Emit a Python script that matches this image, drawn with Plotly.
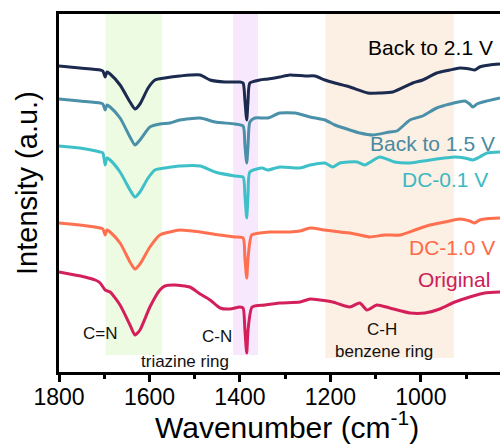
import plotly.graph_objects as go

# ---- data (wavenumber in cm-1, intensity in arbitrary offset units) ----
wn_b21 = [1800, 1754, 1709, 1703, 1698, 1694, 1687, 1665, 1643, 1632, 1621, 1603, 1588, 1566, 1533, 1488,
          1466, 1433, 1400, 1393, 1389, 1385, 1382, 1378, 1356, 1338, 1312, 1290, 1256, 1234, 1212, 1190,
          1157, 1117, 1091, 1062, 1018, 996, 965, 936, 914, 892, 881, 870, 848, 825]
in_b21 = [306, 304, 302, 301, 295, 300, 298, 287, 270, 263, 268, 284, 292, 294, 296, 297,
          292, 290, 290, 289, 272, 252, 272, 289, 292, 293, 295, 297, 296, 296, 292, 289,
          285, 279, 279, 280, 289, 292, 299, 302, 304, 303, 302, 305, 307, 308]

wn_b15 = [1800, 1754, 1709, 1703, 1698, 1694, 1687, 1665, 1643, 1632, 1621, 1599, 1577, 1555, 1533, 1488,
          1455, 1411, 1393, 1389, 1385, 1382, 1378, 1367, 1338, 1312, 1278, 1245, 1212, 1190, 1157, 1135,
          1106, 1069, 1053, 1024, 996, 965, 936, 903, 892, 885, 876, 863, 825]
in_b15 = [273, 271, 269, 268, 262, 267, 265, 254, 235, 227, 232, 245, 248, 249, 252, 254,
          250, 248, 246, 227, 209, 227, 250, 254, 254, 259, 259, 255, 252, 247, 242, 239,
          237, 240, 241, 252, 256, 264, 268, 271, 268, 265, 268, 270, 274]

wn_dc01 = [1800, 1754, 1709, 1703, 1698, 1694, 1687, 1665, 1643, 1632, 1621, 1603, 1588, 1566, 1533, 1488,
           1455, 1411, 1393, 1389, 1385, 1382, 1378, 1351, 1338, 1312, 1267, 1245, 1212, 1195, 1179, 1141,
           1124, 1091, 1058, 1024, 980, 925, 903, 885, 870, 854, 825]
in_dc01 = [226, 224, 220, 219, 207, 214, 212, 200, 182, 175, 180, 194, 202, 204, 206, 206,
           200, 196, 195, 177, 154, 177, 200, 204, 202, 205, 204, 207, 209, 205, 209, 210,
           207, 215, 210, 209, 212, 215, 214, 212, 215, 219, 220]

wn_dc10 = [1800, 1754, 1709, 1703, 1698, 1694, 1687, 1665, 1643, 1632, 1621, 1599, 1577, 1555, 1533, 1488,
           1444, 1411, 1393, 1389, 1385, 1382, 1374, 1356, 1334, 1290, 1267, 1245, 1212, 1179, 1157, 1135,
           1113, 1080, 1046, 1013, 980, 947, 914, 892, 881, 870, 859, 825]
in_dc10 = [149, 147, 144, 143, 137, 142, 140, 129, 110, 103, 108, 125, 137, 140, 142, 140,
           137, 135, 134, 114, 94, 114, 137, 139, 140, 140, 141, 144, 142, 140, 139, 137,
           135, 137, 137, 142, 147, 150, 153, 151, 149, 152, 153, 154]

wn_orig = [1800, 1765, 1743, 1720, 1709, 1698, 1687, 1665, 1643, 1632, 1621, 1599, 1577, 1566, 1544, 1511,
           1488, 1466, 1444, 1422, 1400, 1393, 1389, 1385, 1382, 1373, 1345, 1312, 1267, 1245, 1223, 1195,
           1157, 1135, 1119, 1097, 1069, 1024, 991, 958, 925, 892, 859, 825]
in_orig = [100, 97, 95, 92, 89, 82, 80, 67, 47, 37, 42, 65, 82, 86, 87, 85,
           78, 72, 64, 63, 65, 64, 42, 19, 42, 65, 67, 69, 70, 73, 72, 70,
           65, 69, 62, 67, 64, 59, 59, 63, 70, 75, 79, 80]

series_names = ["Back to 2.1 V", "Back to 1.5 V", "DC-0.1 V", "DC-1.0 V", "Original"]
series_wn = [wn_b21, wn_b15, wn_dc01, wn_dc10, wn_orig]
series_in = [in_b21, in_b15, in_dc01, in_dc10, in_orig]
line_colors = ["#1b2a4e", "#4a90a8", "#3ec0c8", "#ff7050", "#d4205a"]
label_colors = ["#000000", "#4a8aa0", "#3bb8c4", "#ff6a48", "#cc2058"]
label_y = [325, 229, 193, 125, 93]
label_x = [0.989, 0.993, 0.977, 0.993, 0.982]

# shaded bands (wavenumber start, end, lower edge) and colours
bands = [(1697, 1572, 17, "#eefbe3"), (1415, 1360, 17, "#f7e8fd"), (1211, 927, 14, "#fcefe3")]

# band annotations
notes = [("C=N", 1709, 39), ("C-N", 1450, 36), ("triazine ring", 1521, 11),
         ("C-H", 1085, 43), ("benzene ring", 1082, 21)]

FONT = "Arial, Liberation Sans, sans-serif"

fig = go.Figure()
for n, w, v, c in zip(series_names, series_wn, series_in, line_colors):
    fig.add_trace(go.Scatter(x=w, y=v, mode="lines", name=n,
                             line=dict(color=c, width=3, shape="spline", smoothing=0.6),
                             showlegend=False))

for x0, x1, yb, col in bands:
    fig.add_shape(type="rect", xref="x", yref="y", x0=x0, x1=x1, y0=yb, y1=358,
                  fillcolor=col, line=dict(width=0), layer="below")

for n, yy, xx, c in zip(series_names, label_y, label_x, label_colors):
    fig.add_annotation(text=n, xref="paper", yref="y", x=xx, y=yy, xanchor="right",
                       yanchor="middle", showarrow=False, font=dict(family=FONT, size=21, color=c))

for t, xx, yy in notes:
    fig.add_annotation(text=t, xref="x", yref="y", x=xx, y=yy, showarrow=False,
                       xanchor="center", yanchor="middle", font=dict(family=FONT, size=17, color="#111111"))

fig.add_annotation(text="Intensity (a.u.)", xref="paper", yref="paper", x=-0.0726, y=0.528,
                   textangle=-90, showarrow=False, xanchor="center", yanchor="middle",
                   font=dict(family=FONT, size=29, color="#000000"))
fig.add_annotation(text="Wavenumber (cm<sup>-1</sup>)", xref="paper", yref="paper", x=0.517, y=-0.147,
                   showarrow=False, xanchor="center", yanchor="middle",
                   font=dict(family=FONT, size=30, color="#000000"))

fig.update_layout(
    width=500, height=444,
    margin=dict(l=59, r=0, t=14, b=72),
    plot_bgcolor="white", paper_bgcolor="white",
    font=dict(family=FONT, color="#000000"),
    xaxis=dict(range=[1800, 825], showgrid=False, zeroline=False, showline=True,
               linecolor="black", linewidth=3, mirror=True,
               tickmode="array", tickvals=[1800, 1600, 1400, 1200, 1000],
               ticktext=["1800", "1600", "1400", "1200", "1000"],
               ticks="outside", ticklen=7, tickwidth=3, tickcolor="black",
               ticklabelstandoff=-5,
               tickfont=dict(family=FONT, size=23, color="black"),
               minor=dict(tickvals=[1700, 1500, 1300, 1100, 900], ticks="outside",
                          ticklen=4, tickwidth=3, tickcolor="black")),
    yaxis=dict(range=[0, 358], showgrid=False, zeroline=False, showline=True,
               linecolor="black", linewidth=3, mirror=False, showticklabels=False, ticks=""),
)

fig.write_html("out.html")
